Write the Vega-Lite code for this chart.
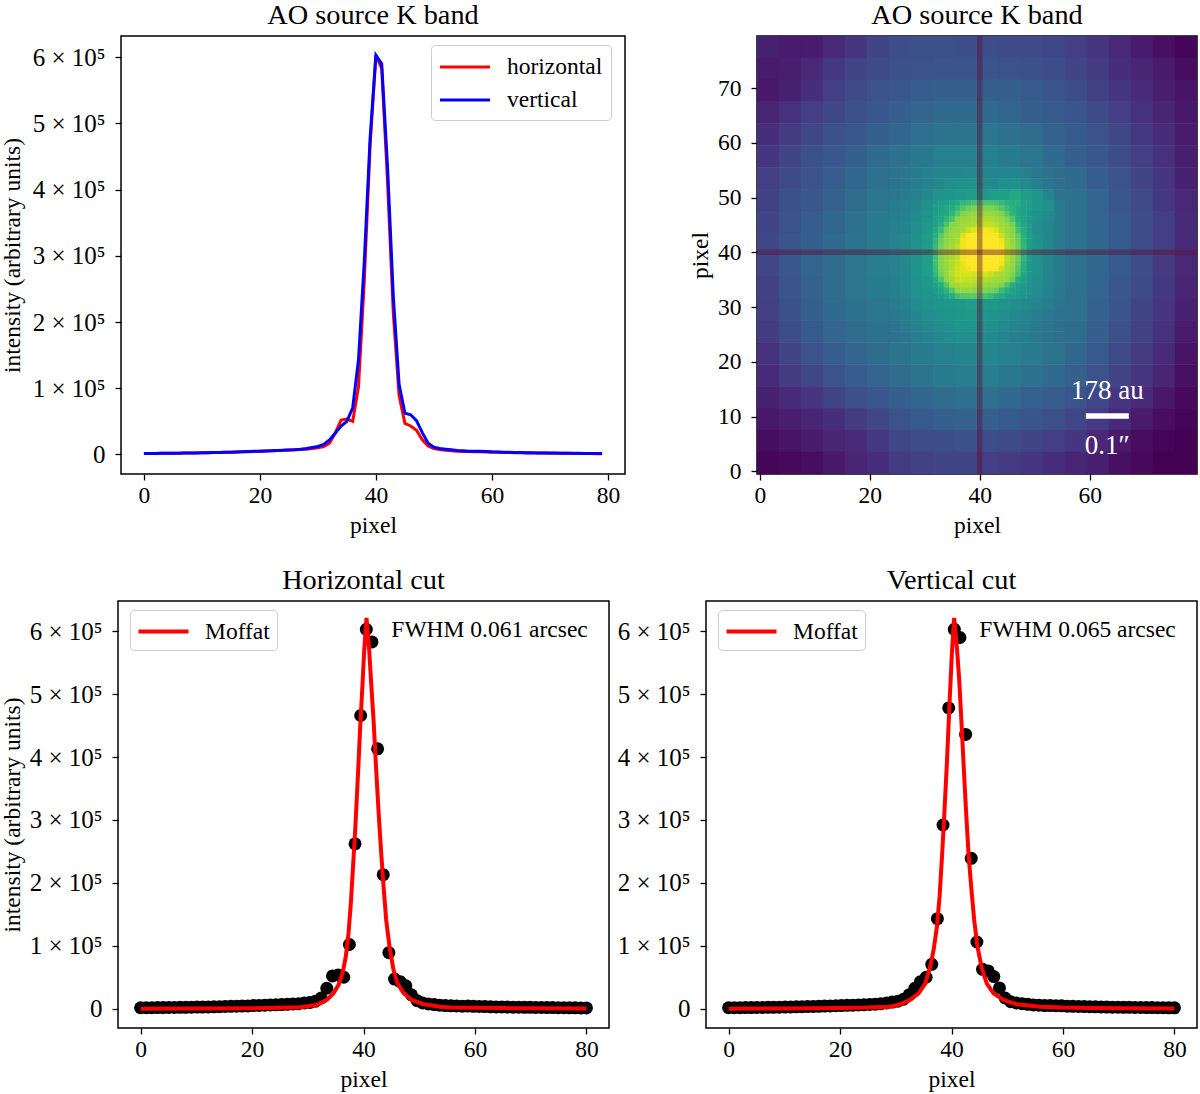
{"$schema":"https://vega.github.io/schema/vega-lite/v6.json","background":"white","padding":{"left":-1,"top":-1,"right":0,"bottom":0},"spacing":26,"resolve":{"scale":{"color":"independent"},"legend":{"color":"independent"}},"config":{"font":"Liberation Serif","view":{"stroke":"#000","strokeWidth":1.5},"title":{"fontSize":28.3,"fontWeight":"normal","color":"#000","offset":6},"axis":{"grid":false,"domain":false,"tickColor":"#000","tickSize":6,"tickWidth":1.3,"labelColor":"#000","labelFontSize":23.5,"titleColor":"#000","titleFontSize":23.5,"titleFontWeight":"normal","labelFlush":false,"labelOverlap":false},"axisX":{"labelPadding":3,"titlePadding":7},"axisY":{"labelPadding":10},"legend":{"labelFontSize":23.5,"labelColor":"#000"}},
"datasets":{
"cuts":[{"i":0,"x":0,"h":1500,"v":1500},{"i":1,"x":1.013,"h":1500,"v":1500},{"i":2,"x":2.025,"h":1600,"v":1600},{"i":3,"x":3.038,"h":1700,"v":1700},{"i":4,"x":4.051,"h":1800,"v":1800},{"i":5,"x":5.063,"h":2000,"v":1900},{"i":6,"x":6.076,"h":2000,"v":2000},{"i":7,"x":7.089,"h":2100,"v":2100},{"i":8,"x":8.101,"h":2200,"v":2200},{"i":9,"x":9.114,"h":2300,"v":2300},{"i":10,"x":10.127,"h":2500,"v":2500},{"i":11,"x":11.139,"h":2600,"v":2700},{"i":12,"x":12.152,"h":2800,"v":2900},{"i":13,"x":13.165,"h":3000,"v":3100},{"i":14,"x":14.177,"h":3200,"v":3300},{"i":15,"x":15.19,"h":3500,"v":3500},{"i":16,"x":16.203,"h":3700,"v":3800},{"i":17,"x":17.215,"h":4000,"v":4100},{"i":18,"x":18.228,"h":4200,"v":4400},{"i":19,"x":19.241,"h":4400,"v":4700},{"i":20,"x":20.253,"h":5000,"v":5000},{"i":21,"x":21.266,"h":5200,"v":5300},{"i":22,"x":22.278,"h":5500,"v":5600},{"i":23,"x":23.291,"h":6000,"v":6000},{"i":24,"x":24.304,"h":6200,"v":6300},{"i":25,"x":25.316,"h":6600,"v":6700},{"i":26,"x":26.329,"h":7000,"v":7200},{"i":27,"x":27.342,"h":7500,"v":8000},{"i":28,"x":28.354,"h":8000,"v":9000},{"i":29,"x":29.367,"h":9000,"v":10500},{"i":30,"x":30.38,"h":10000,"v":12000},{"i":31,"x":31.392,"h":12000,"v":15000},{"i":32,"x":32.405,"h":17000,"v":22000},{"i":33,"x":33.418,"h":32500,"v":32500},{"i":34,"x":34.43,"h":52000,"v":43000},{"i":35,"x":35.443,"h":53500,"v":50000},{"i":36,"x":36.456,"h":50000,"v":70500},{"i":37,"x":37.468,"h":102000,"v":143000},{"i":38,"x":38.481,"h":262000,"v":292000},{"i":39,"x":39.494,"h":466000,"v":478000},{"i":40,"x":40.506,"h":603000,"v":603000},{"i":41,"x":41.519,"h":583000,"v":590000},{"i":42,"x":42.532,"h":413000,"v":436000},{"i":43,"x":43.544,"h":213000,"v":239000},{"i":44,"x":44.557,"h":89000,"v":106000},{"i":45,"x":45.57,"h":47000,"v":62500},{"i":46,"x":46.582,"h":43000,"v":60000},{"i":47,"x":47.595,"h":36500,"v":51000},{"i":48,"x":48.608,"h":22000,"v":33000},{"i":49,"x":49.62,"h":12700,"v":17000},{"i":50,"x":50.633,"h":9000,"v":11000},{"i":51,"x":51.646,"h":7500,"v":9000},{"i":52,"x":52.658,"h":6500,"v":8000},{"i":53,"x":53.671,"h":5500,"v":7000},{"i":54,"x":54.684,"h":5000,"v":6000},{"i":55,"x":55.696,"h":4500,"v":5500},{"i":56,"x":56.709,"h":4300,"v":5000},{"i":57,"x":57.722,"h":4000,"v":5000},{"i":58,"x":58.734,"h":4200,"v":4800},{"i":59,"x":59.747,"h":3800,"v":4500},{"i":60,"x":60.76,"h":3500,"v":4000},{"i":61,"x":61.772,"h":3300,"v":3800},{"i":62,"x":62.785,"h":3000,"v":3500},{"i":63,"x":63.797,"h":2800,"v":3300},{"i":64,"x":64.81,"h":2700,"v":3100},{"i":65,"x":65.823,"h":2500,"v":2900},{"i":66,"x":66.835,"h":2400,"v":2700},{"i":67,"x":67.848,"h":2300,"v":2500},{"i":68,"x":68.861,"h":2200,"v":2400},{"i":69,"x":69.873,"h":2100,"v":2300},{"i":70,"x":70.886,"h":2000,"v":2200},{"i":71,"x":71.899,"h":1900,"v":2100},{"i":72,"x":72.911,"h":1800,"v":2000},{"i":73,"x":73.924,"h":1700,"v":1900},{"i":74,"x":74.937,"h":1600,"v":1800},{"i":75,"x":75.949,"h":1500,"v":1700},{"i":76,"x":76.962,"h":1400,"v":1600},{"i":77,"x":77.975,"h":1300,"v":1500},{"i":78,"x":78.987,"h":1200,"v":1400},{"i":79,"x":80,"h":1200,"v":1300}],
"moffatH":[{"x":0,"y":0},{"x":10,"y":300},{"x":20,"y":800},{"x":25,"y":1400},{"x":28.64,"y":2200},{"x":31.63,"y":6000},{"x":33.42,"y":14000},{"x":34.62,"y":24500},{"x":35.52,"y":38000},{"x":36.24,"y":56000},{"x":36.83,"y":83000},{"x":37.31,"y":120000},{"x":37.73,"y":168000},{"x":38.09,"y":221000},{"x":38.51,"y":284000},{"x":38.93,"y":358000},{"x":39.41,"y":448000},{"x":39.83,"y":517000},{"x":40.13,"y":570000},{"x":40.54,"y":621000},{"x":41.02,"y":570000},{"x":41.38,"y":517000},{"x":41.8,"y":459000},{"x":42.28,"y":379000},{"x":42.76,"y":305000},{"x":43.18,"y":247000},{"x":43.6,"y":194000},{"x":44.07,"y":141000},{"x":44.67,"y":98500},{"x":45.39,"y":61500},{"x":46.11,"y":40000},{"x":47.19,"y":24500},{"x":48.68,"y":14000},{"x":50.78,"y":7000},{"x":53.77,"y":3200},{"x":55.57,"y":2000},{"x":60,"y":1300},{"x":65,"y":900},{"x":70,"y":600},{"x":80,"y":300}],
"moffatV":[{"x":0,"y":0},{"x":10,"y":400},{"x":20,"y":1000},{"x":25,"y":1700},{"x":29,"y":3200},{"x":30.8,"y":7000},{"x":32.6,"y":14000},{"x":34.09,"y":24500},{"x":35.29,"y":40000},{"x":36.18,"y":67000},{"x":36.78,"y":93000},{"x":37.38,"y":130000},{"x":37.86,"y":178000},{"x":38.33,"y":247000},{"x":38.75,"y":316000},{"x":39.17,"y":390000},{"x":39.65,"y":486000},{"x":40.07,"y":565000},{"x":40.48,"y":621000},{"x":40.96,"y":575500},{"x":41.38,"y":523000},{"x":41.74,"y":464000},{"x":42.16,"y":390000},{"x":42.63,"y":311000},{"x":43.05,"y":247000},{"x":43.53,"y":194000},{"x":44.07,"y":141000},{"x":44.66,"y":98500},{"x":45.44,"y":64000},{"x":46.34,"y":40000},{"x":47.53,"y":24500},{"x":49.32,"y":14000},{"x":51.7,"y":7000},{"x":55.9,"y":3200},{"x":60,"y":1800},{"x":65,"y":1200},{"x":70,"y":800},{"x":80,"y":400}],
"coarse":[{"i":1.5,"j":77.5,"t":9},{"i":5.5,"j":77.5,"t":7},{"i":9.5,"j":77.5,"t":7},{"i":13.5,"j":77.5,"t":11},{"i":17.5,"j":77.5,"t":15},{"i":21.5,"j":77.5,"t":20},{"i":25.5,"j":77.5,"t":23},{"i":29.5,"j":77.5,"t":24},{"i":33.5,"j":77.5,"t":24},{"i":37.5,"j":77.5,"t":23},{"i":41.5,"j":77.5,"t":23},{"i":45.5,"j":77.5,"t":22},{"i":49.5,"j":77.5,"t":22},{"i":53.5,"j":77.5,"t":21},{"i":57.5,"j":77.5,"t":18},{"i":61.5,"j":77.5,"t":15},{"i":65.5,"j":77.5,"t":11},{"i":69.5,"j":77.5,"t":7},{"i":73.5,"j":77.5,"t":4},{"i":77.5,"j":77.5,"t":1},
{"i":1.5,"j":73.5,"t":7},{"i":5.5,"j":73.5,"t":8},{"i":9.5,"j":73.5,"t":11},{"i":13.5,"j":73.5,"t":16},{"i":17.5,"j":73.5,"t":20},{"i":21.5,"j":73.5,"t":22},{"i":25.5,"j":73.5,"t":24},{"i":29.5,"j":73.5,"t":25},{"i":33.5,"j":73.5,"t":26},{"i":37.5,"j":73.5,"t":26},{"i":41.5,"j":73.5,"t":26},{"i":45.5,"j":73.5,"t":25},{"i":49.5,"j":73.5,"t":24},{"i":53.5,"j":73.5,"t":23},{"i":57.5,"j":73.5,"t":20},{"i":61.5,"j":73.5,"t":17},{"i":65.5,"j":73.5,"t":13},{"i":69.5,"j":73.5,"t":10},{"i":73.5,"j":73.5,"t":7},{"i":77.5,"j":73.5,"t":3},
{"i":1.5,"j":69.5,"t":6},{"i":5.5,"j":69.5,"t":9},{"i":9.5,"j":69.5,"t":13},{"i":13.5,"j":69.5,"t":18},{"i":17.5,"j":69.5,"t":22},{"i":21.5,"j":69.5,"t":25},{"i":25.5,"j":69.5,"t":27},{"i":29.5,"j":69.5,"t":29},{"i":33.5,"j":69.5,"t":30},{"i":37.5,"j":69.5,"t":30},{"i":41.5,"j":69.5,"t":30},{"i":45.5,"j":69.5,"t":30},{"i":49.5,"j":69.5,"t":28},{"i":53.5,"j":69.5,"t":26},{"i":57.5,"j":69.5,"t":23},{"i":61.5,"j":69.5,"t":19},{"i":65.5,"j":69.5,"t":15},{"i":69.5,"j":69.5,"t":12},{"i":73.5,"j":69.5,"t":8},{"i":77.5,"j":69.5,"t":5},
{"i":1.5,"j":65.5,"t":10},{"i":5.5,"j":65.5,"t":14},{"i":9.5,"j":65.5,"t":18},{"i":13.5,"j":65.5,"t":21},{"i":17.5,"j":65.5,"t":24},{"i":21.5,"j":65.5,"t":27},{"i":25.5,"j":65.5,"t":30},{"i":29.5,"j":65.5,"t":32},{"i":33.5,"j":65.5,"t":34},{"i":37.5,"j":65.5,"t":34},{"i":41.5,"j":65.5,"t":34},{"i":45.5,"j":65.5,"t":33},{"i":49.5,"j":65.5,"t":30},{"i":53.5,"j":65.5,"t":28},{"i":57.5,"j":65.5,"t":26},{"i":61.5,"j":65.5,"t":22},{"i":65.5,"j":65.5,"t":18},{"i":69.5,"j":65.5,"t":14},{"i":73.5,"j":65.5,"t":10},{"i":77.5,"j":65.5,"t":6},
{"i":1.5,"j":61.5,"t":13},{"i":5.5,"j":61.5,"t":17},{"i":9.5,"j":61.5,"t":21},{"i":13.5,"j":61.5,"t":24},{"i":17.5,"j":61.5,"t":27},{"i":21.5,"j":61.5,"t":30},{"i":25.5,"j":61.5,"t":33},{"i":29.5,"j":61.5,"t":36},{"i":33.5,"j":61.5,"t":38},{"i":37.5,"j":61.5,"t":38},{"i":41.5,"j":61.5,"t":39},{"i":45.5,"j":61.5,"t":37},{"i":49.5,"j":61.5,"t":35},{"i":53.5,"j":61.5,"t":31},{"i":57.5,"j":61.5,"t":28},{"i":61.5,"j":61.5,"t":25},{"i":65.5,"j":61.5,"t":21},{"i":69.5,"j":61.5,"t":16},{"i":73.5,"j":61.5,"t":12},{"i":77.5,"j":61.5,"t":7},
{"i":1.5,"j":57.5,"t":15},{"i":5.5,"j":57.5,"t":20},{"i":9.5,"j":57.5,"t":24},{"i":13.5,"j":57.5,"t":27},{"i":17.5,"j":57.5,"t":30},{"i":21.5,"j":57.5,"t":34},{"i":25.5,"j":57.5,"t":37},{"i":29.5,"j":57.5,"t":40},{"i":33.5,"j":57.5,"t":43},{"i":37.5,"j":57.5,"t":43},{"i":41.5,"j":57.5,"t":43},{"i":45.5,"j":57.5,"t":41},{"i":49.5,"j":57.5,"t":39},{"i":53.5,"j":57.5,"t":34},{"i":57.5,"j":57.5,"t":30},{"i":61.5,"j":57.5,"t":27},{"i":65.5,"j":57.5,"t":23},{"i":69.5,"j":57.5,"t":18},{"i":73.5,"j":57.5,"t":14},{"i":77.5,"j":57.5,"t":8},
{"i":1.5,"j":53.5,"t":18},{"i":5.5,"j":53.5,"t":22},{"i":9.5,"j":53.5,"t":25},{"i":13.5,"j":53.5,"t":29},{"i":17.5,"j":53.5,"t":33},{"i":21.5,"j":53.5,"t":36},{"i":57.5,"j":53.5,"t":34},{"i":61.5,"j":53.5,"t":29},{"i":65.5,"j":53.5,"t":25},{"i":69.5,"j":53.5,"t":20},{"i":73.5,"j":53.5,"t":15},{"i":77.5,"j":53.5,"t":9},
{"i":1.5,"j":49.5,"t":19},{"i":5.5,"j":49.5,"t":24},{"i":9.5,"j":49.5,"t":27},{"i":13.5,"j":49.5,"t":31},{"i":17.5,"j":49.5,"t":35},{"i":21.5,"j":49.5,"t":39},{"i":57.5,"j":49.5,"t":37},{"i":61.5,"j":49.5,"t":32},{"i":65.5,"j":49.5,"t":27},{"i":69.5,"j":49.5,"t":22},{"i":73.5,"j":49.5,"t":16},{"i":77.5,"j":49.5,"t":11},
{"i":1.5,"j":45.5,"t":20},{"i":5.5,"j":45.5,"t":25},{"i":9.5,"j":45.5,"t":29},{"i":13.5,"j":45.5,"t":33},{"i":17.5,"j":45.5,"t":37},{"i":21.5,"j":45.5,"t":41},{"i":57.5,"j":45.5,"t":37},{"i":61.5,"j":45.5,"t":32},{"i":65.5,"j":45.5,"t":28},{"i":69.5,"j":45.5,"t":23},{"i":73.5,"j":45.5,"t":18},{"i":77.5,"j":45.5,"t":12},
{"i":1.5,"j":41.5,"t":21},{"i":5.5,"j":41.5,"t":26},{"i":9.5,"j":41.5,"t":30},{"i":13.5,"j":41.5,"t":34},{"i":17.5,"j":41.5,"t":38},{"i":21.5,"j":41.5,"t":41},{"i":57.5,"j":41.5,"t":37},{"i":61.5,"j":41.5,"t":33},{"i":65.5,"j":41.5,"t":28},{"i":69.5,"j":41.5,"t":23},{"i":73.5,"j":41.5,"t":18},{"i":77.5,"j":41.5,"t":12},
{"i":1.5,"j":37.5,"t":21},{"i":5.5,"j":37.5,"t":27},{"i":9.5,"j":37.5,"t":32},{"i":13.5,"j":37.5,"t":35},{"i":17.5,"j":37.5,"t":39},{"i":21.5,"j":37.5,"t":42},{"i":57.5,"j":37.5,"t":37},{"i":61.5,"j":37.5,"t":33},{"i":65.5,"j":37.5,"t":28},{"i":69.5,"j":37.5,"t":23},{"i":73.5,"j":37.5,"t":17},{"i":77.5,"j":37.5,"t":11},
{"i":1.5,"j":33.5,"t":19},{"i":5.5,"j":33.5,"t":26},{"i":9.5,"j":33.5,"t":31},{"i":13.5,"j":33.5,"t":35},{"i":17.5,"j":33.5,"t":39},{"i":21.5,"j":33.5,"t":41},{"i":57.5,"j":33.5,"t":37},{"i":61.5,"j":33.5,"t":32},{"i":65.5,"j":33.5,"t":27},{"i":69.5,"j":33.5,"t":22},{"i":73.5,"j":33.5,"t":16},{"i":77.5,"j":33.5,"t":10},
{"i":1.5,"j":29.5,"t":18},{"i":5.5,"j":29.5,"t":24},{"i":9.5,"j":29.5,"t":30},{"i":13.5,"j":29.5,"t":34},{"i":17.5,"j":29.5,"t":37},{"i":21.5,"j":29.5,"t":39},{"i":57.5,"j":29.5,"t":37},{"i":61.5,"j":29.5,"t":31},{"i":65.5,"j":29.5,"t":26},{"i":69.5,"j":29.5,"t":20},{"i":73.5,"j":29.5,"t":15},{"i":77.5,"j":29.5,"t":9},
{"i":1.5,"j":25.5,"t":17},{"i":5.5,"j":25.5,"t":23},{"i":9.5,"j":25.5,"t":28},{"i":13.5,"j":25.5,"t":32},{"i":17.5,"j":25.5,"t":35},{"i":21.5,"j":25.5,"t":37},{"i":57.5,"j":25.5,"t":35},{"i":61.5,"j":25.5,"t":30},{"i":65.5,"j":25.5,"t":24},{"i":69.5,"j":25.5,"t":19},{"i":73.5,"j":25.5,"t":14},{"i":77.5,"j":25.5,"t":7},
{"i":1.5,"j":21.5,"t":14},{"i":5.5,"j":21.5,"t":20},{"i":9.5,"j":21.5,"t":25},{"i":13.5,"j":21.5,"t":29},{"i":17.5,"j":21.5,"t":32},{"i":21.5,"j":21.5,"t":35},{"i":25.5,"j":21.5,"t":38},{"i":29.5,"j":21.5,"t":41},{"i":33.5,"j":21.5,"t":43},{"i":37.5,"j":21.5,"t":45},{"i":41.5,"j":21.5,"t":46},{"i":45.5,"j":21.5,"t":44},{"i":49.5,"j":21.5,"t":41},{"i":53.5,"j":21.5,"t":38},{"i":57.5,"j":21.5,"t":33},{"i":61.5,"j":21.5,"t":28},{"i":65.5,"j":21.5,"t":22},{"i":69.5,"j":21.5,"t":17},{"i":73.5,"j":21.5,"t":12},{"i":77.5,"j":21.5,"t":5},
{"i":1.5,"j":17.5,"t":12},{"i":5.5,"j":17.5,"t":17},{"i":9.5,"j":17.5,"t":21},{"i":13.5,"j":17.5,"t":25},{"i":17.5,"j":17.5,"t":29},{"i":21.5,"j":17.5,"t":32},{"i":25.5,"j":17.5,"t":35},{"i":29.5,"j":17.5,"t":38},{"i":33.5,"j":17.5,"t":41},{"i":37.5,"j":17.5,"t":42},{"i":41.5,"j":17.5,"t":42},{"i":45.5,"j":17.5,"t":40},{"i":49.5,"j":17.5,"t":37},{"i":53.5,"j":17.5,"t":34},{"i":57.5,"j":17.5,"t":30},{"i":61.5,"j":17.5,"t":25},{"i":65.5,"j":17.5,"t":20},{"i":69.5,"j":17.5,"t":15},{"i":73.5,"j":17.5,"t":10},{"i":77.5,"j":17.5,"t":4},
{"i":1.5,"j":13.5,"t":9},{"i":5.5,"j":13.5,"t":12},{"i":9.5,"j":13.5,"t":15},{"i":13.5,"j":13.5,"t":20},{"i":17.5,"j":13.5,"t":24},{"i":21.5,"j":13.5,"t":27},{"i":25.5,"j":13.5,"t":30},{"i":29.5,"j":13.5,"t":33},{"i":33.5,"j":13.5,"t":35},{"i":37.5,"j":13.5,"t":36},{"i":41.5,"j":13.5,"t":36},{"i":45.5,"j":13.5,"t":34},{"i":49.5,"j":13.5,"t":31},{"i":53.5,"j":13.5,"t":29},{"i":57.5,"j":13.5,"t":26},{"i":61.5,"j":13.5,"t":21},{"i":65.5,"j":13.5,"t":15},{"i":69.5,"j":13.5,"t":12},{"i":73.5,"j":13.5,"t":6},{"i":77.5,"j":13.5,"t":2},
{"i":1.5,"j":9.5,"t":6},{"i":5.5,"j":9.5,"t":8},{"i":9.5,"j":9.5,"t":10},{"i":13.5,"j":9.5,"t":13},{"i":17.5,"j":9.5,"t":17},{"i":21.5,"j":9.5,"t":21},{"i":25.5,"j":9.5,"t":25},{"i":29.5,"j":9.5,"t":28},{"i":33.5,"j":9.5,"t":30},{"i":37.5,"j":9.5,"t":31},{"i":41.5,"j":9.5,"t":30},{"i":45.5,"j":9.5,"t":28},{"i":49.5,"j":9.5,"t":26},{"i":53.5,"j":9.5,"t":24},{"i":57.5,"j":9.5,"t":21},{"i":61.5,"j":9.5,"t":17},{"i":65.5,"j":9.5,"t":12},{"i":69.5,"j":9.5,"t":7},{"i":73.5,"j":9.5,"t":3},{"i":77.5,"j":9.5,"t":1},
{"i":1.5,"j":5.5,"t":3},{"i":5.5,"j":5.5,"t":5},{"i":9.5,"j":5.5,"t":7},{"i":13.5,"j":5.5,"t":10},{"i":17.5,"j":5.5,"t":12},{"i":21.5,"j":5.5,"t":16},{"i":25.5,"j":5.5,"t":21},{"i":29.5,"j":5.5,"t":23},{"i":33.5,"j":5.5,"t":23},{"i":37.5,"j":5.5,"t":24},{"i":41.5,"j":5.5,"t":23},{"i":45.5,"j":5.5,"t":22},{"i":49.5,"j":5.5,"t":20},{"i":53.5,"j":5.5,"t":18},{"i":57.5,"j":5.5,"t":15},{"i":61.5,"j":5.5,"t":11},{"i":65.5,"j":5.5,"t":7},{"i":69.5,"j":5.5,"t":3},{"i":73.5,"j":5.5,"t":1},{"i":77.5,"j":5.5,"t":0},
{"i":1.5,"j":1.5,"t":1},{"i":5.5,"j":1.5,"t":2},{"i":9.5,"j":1.5,"t":3},{"i":13.5,"j":1.5,"t":6},{"i":17.5,"j":1.5,"t":10},{"i":21.5,"j":1.5,"t":13},{"i":25.5,"j":1.5,"t":17},{"i":29.5,"j":1.5,"t":19},{"i":33.5,"j":1.5,"t":20},{"i":37.5,"j":1.5,"t":20},{"i":41.5,"j":1.5,"t":18},{"i":45.5,"j":1.5,"t":17},{"i":49.5,"j":1.5,"t":15},{"i":53.5,"j":1.5,"t":13},{"i":57.5,"j":1.5,"t":10},{"i":61.5,"j":1.5,"t":8},{"i":65.5,"j":1.5,"t":4},{"i":69.5,"j":1.5,"t":2},{"i":73.5,"j":1.5,"t":0},{"i":77.5,"j":1.5,"t":0}],
"medium":[{"i":24.5,"j":54.5,"t":37},{"i":26.5,"j":54.5,"t":39},{"i":28.5,"j":54.5,"t":41},{"i":30.5,"j":54.5,"t":43},{"i":32.5,"j":54.5,"t":45},{"i":34.5,"j":54.5,"t":46},{"i":36.5,"j":54.5,"t":46},{"i":38.5,"j":54.5,"t":47},{"i":40.5,"j":54.5,"t":45},{"i":42.5,"j":54.5,"t":45},{"i":44.5,"j":54.5,"t":45},{"i":46.5,"j":54.5,"t":45},{"i":48.5,"j":54.5,"t":43},{"i":50.5,"j":54.5,"t":40},{"i":52.5,"j":54.5,"t":37},{"i":54.5,"j":54.5,"t":35},
{"i":24.5,"j":52.5,"t":38},{"i":26.5,"j":52.5,"t":40},{"i":28.5,"j":52.5,"t":42},{"i":30.5,"j":52.5,"t":44},{"i":32.5,"j":52.5,"t":46},{"i":34.5,"j":52.5,"t":49},{"i":36.5,"j":52.5,"t":50},{"i":38.5,"j":52.5,"t":50},{"i":40.5,"j":52.5,"t":47},{"i":42.5,"j":52.5,"t":47},{"i":44.5,"j":52.5,"t":49},{"i":46.5,"j":52.5,"t":50},{"i":48.5,"j":52.5,"t":47},{"i":50.5,"j":52.5,"t":43},{"i":52.5,"j":52.5,"t":39},{"i":54.5,"j":52.5,"t":36},
{"i":24.5,"j":50.5,"t":39},{"i":26.5,"j":50.5,"t":41},{"i":28.5,"j":50.5,"t":43},{"i":30.5,"j":50.5,"t":46},{"i":32.5,"j":50.5,"t":50},{"i":34.5,"j":50.5,"t":52},{"i":36.5,"j":50.5,"t":54},{"i":38.5,"j":50.5,"t":55},{"i":40.5,"j":50.5,"t":54},{"i":42.5,"j":50.5,"t":55},{"i":44.5,"j":50.5,"t":57},{"i":46.5,"j":50.5,"t":60},{"i":48.5,"j":50.5,"t":55},{"i":50.5,"j":50.5,"t":52},{"i":52.5,"j":50.5,"t":45},{"i":54.5,"j":50.5,"t":38},
{"i":24.5,"j":48.5,"t":41},{"i":26.5,"j":48.5,"t":43},{"i":28.5,"j":48.5,"t":46},{"i":30.5,"j":48.5,"t":50},{"i":50.5,"j":48.5,"t":53},{"i":52.5,"j":48.5,"t":50},{"i":54.5,"j":48.5,"t":41},
{"i":24.5,"j":46.5,"t":42},{"i":26.5,"j":46.5,"t":44},{"i":28.5,"j":46.5,"t":47},{"i":30.5,"j":46.5,"t":52},{"i":50.5,"j":46.5,"t":50},{"i":52.5,"j":46.5,"t":47},{"i":54.5,"j":46.5,"t":41},
{"i":24.5,"j":44.5,"t":43},{"i":26.5,"j":44.5,"t":45},{"i":28.5,"j":44.5,"t":49},{"i":30.5,"j":44.5,"t":54},{"i":50.5,"j":44.5,"t":49},{"i":52.5,"j":44.5,"t":46},{"i":54.5,"j":44.5,"t":41},
{"i":24.5,"j":42.5,"t":44},{"i":26.5,"j":42.5,"t":46},{"i":28.5,"j":42.5,"t":50},{"i":30.5,"j":42.5,"t":55},{"i":50.5,"j":42.5,"t":50},{"i":52.5,"j":42.5,"t":46},{"i":54.5,"j":42.5,"t":41},
{"i":24.5,"j":40.5,"t":44},{"i":26.5,"j":40.5,"t":46},{"i":28.5,"j":40.5,"t":50},{"i":30.5,"j":40.5,"t":56},{"i":50.5,"j":40.5,"t":51},{"i":52.5,"j":40.5,"t":46},{"i":54.5,"j":40.5,"t":41},
{"i":24.5,"j":38.5,"t":44},{"i":26.5,"j":38.5,"t":47},{"i":28.5,"j":38.5,"t":51},{"i":30.5,"j":38.5,"t":56},{"i":50.5,"j":38.5,"t":50},{"i":52.5,"j":38.5,"t":46},{"i":54.5,"j":38.5,"t":41},
{"i":24.5,"j":36.5,"t":44},{"i":26.5,"j":36.5,"t":46},{"i":28.5,"j":36.5,"t":51},{"i":30.5,"j":36.5,"t":56},{"i":50.5,"j":36.5,"t":50},{"i":52.5,"j":36.5,"t":45},{"i":54.5,"j":36.5,"t":41},
{"i":24.5,"j":34.5,"t":43},{"i":26.5,"j":34.5,"t":46},{"i":28.5,"j":34.5,"t":50},{"i":30.5,"j":34.5,"t":54},{"i":50.5,"j":34.5,"t":49},{"i":52.5,"j":34.5,"t":45},{"i":54.5,"j":34.5,"t":41},
{"i":24.5,"j":32.5,"t":42},{"i":26.5,"j":32.5,"t":45},{"i":28.5,"j":32.5,"t":50},{"i":30.5,"j":32.5,"t":52},{"i":50.5,"j":32.5,"t":48},{"i":52.5,"j":32.5,"t":44},{"i":54.5,"j":32.5,"t":40},
{"i":24.5,"j":30.5,"t":41},{"i":26.5,"j":30.5,"t":44},{"i":28.5,"j":30.5,"t":48},{"i":30.5,"j":30.5,"t":50},{"i":32.5,"j":30.5,"t":52},{"i":34.5,"j":30.5,"t":53},{"i":36.5,"j":30.5,"t":54},{"i":38.5,"j":30.5,"t":55},{"i":40.5,"j":30.5,"t":54},{"i":42.5,"j":30.5,"t":53},{"i":44.5,"j":30.5,"t":51},{"i":46.5,"j":30.5,"t":49},{"i":48.5,"j":30.5,"t":47},{"i":50.5,"j":30.5,"t":45},{"i":52.5,"j":30.5,"t":42},{"i":54.5,"j":30.5,"t":39},
{"i":24.5,"j":28.5,"t":40},{"i":26.5,"j":28.5,"t":42},{"i":28.5,"j":28.5,"t":46},{"i":30.5,"j":28.5,"t":48},{"i":32.5,"j":28.5,"t":50},{"i":34.5,"j":28.5,"t":52},{"i":36.5,"j":28.5,"t":53},{"i":38.5,"j":28.5,"t":54},{"i":40.5,"j":28.5,"t":53},{"i":42.5,"j":28.5,"t":51},{"i":44.5,"j":28.5,"t":49},{"i":46.5,"j":28.5,"t":47},{"i":48.5,"j":28.5,"t":45},{"i":50.5,"j":28.5,"t":42},{"i":52.5,"j":28.5,"t":40},{"i":54.5,"j":28.5,"t":38},
{"i":24.5,"j":26.5,"t":38},{"i":26.5,"j":26.5,"t":41},{"i":28.5,"j":26.5,"t":44},{"i":30.5,"j":26.5,"t":46},{"i":32.5,"j":26.5,"t":48},{"i":34.5,"j":26.5,"t":50},{"i":36.5,"j":26.5,"t":52},{"i":38.5,"j":26.5,"t":52},{"i":40.5,"j":26.5,"t":50},{"i":42.5,"j":26.5,"t":49},{"i":44.5,"j":26.5,"t":47},{"i":46.5,"j":26.5,"t":45},{"i":48.5,"j":26.5,"t":43},{"i":50.5,"j":26.5,"t":40},{"i":52.5,"j":26.5,"t":38},{"i":54.5,"j":26.5,"t":36},
{"i":24.5,"j":24.5,"t":37},{"i":26.5,"j":24.5,"t":39},{"i":28.5,"j":24.5,"t":42},{"i":30.5,"j":24.5,"t":44},{"i":32.5,"j":24.5,"t":46},{"i":34.5,"j":24.5,"t":48},{"i":36.5,"j":24.5,"t":49},{"i":38.5,"j":24.5,"t":49},{"i":40.5,"j":24.5,"t":48},{"i":42.5,"j":24.5,"t":47},{"i":44.5,"j":24.5,"t":45},{"i":46.5,"j":24.5,"t":43},{"i":48.5,"j":24.5,"t":42},{"i":50.5,"j":24.5,"t":40},{"i":52.5,"j":24.5,"t":38},{"i":54.5,"j":24.5,"t":36}],
"core":[{"i":32,"j":49,"t":54},{"i":33,"j":49,"t":55},{"i":34,"j":49,"t":57},{"i":35,"j":49,"t":59},{"i":36,"j":49,"t":62},{"i":37,"j":49,"t":65},{"i":38,"j":49,"t":68},{"i":39,"j":49,"t":70},{"i":40,"j":49,"t":72},{"i":41,"j":49,"t":72},{"i":42,"j":49,"t":72},{"i":43,"j":49,"t":70},{"i":44,"j":49,"t":67},{"i":45,"j":49,"t":63},{"i":46,"j":49,"t":62},{"i":47,"j":49,"t":62},{"i":48,"j":49,"t":58},{"i":49,"j":49,"t":56},
{"i":32,"j":48,"t":55},{"i":33,"j":48,"t":57},{"i":34,"j":48,"t":60},{"i":35,"j":48,"t":62},{"i":36,"j":48,"t":67},{"i":37,"j":48,"t":74},{"i":38,"j":48,"t":78},{"i":39,"j":48,"t":80},{"i":40,"j":48,"t":81},{"i":41,"j":48,"t":81},{"i":42,"j":48,"t":81},{"i":43,"j":48,"t":79},{"i":44,"j":48,"t":74},{"i":45,"j":48,"t":68},{"i":46,"j":48,"t":63},{"i":47,"j":48,"t":60},{"i":48,"j":48,"t":57},{"i":49,"j":48,"t":55},
{"i":32,"j":47,"t":56},{"i":33,"j":47,"t":58},{"i":34,"j":47,"t":60},{"i":35,"j":47,"t":66},{"i":36,"j":47,"t":74},{"i":37,"j":47,"t":81},{"i":38,"j":47,"t":83},{"i":39,"j":47,"t":84},{"i":40,"j":47,"t":85},{"i":41,"j":47,"t":85},{"i":42,"j":47,"t":85},{"i":43,"j":47,"t":84},{"i":44,"j":47,"t":81},{"i":45,"j":47,"t":74},{"i":46,"j":47,"t":66},{"i":47,"j":47,"t":60},{"i":48,"j":47,"t":57},{"i":49,"j":47,"t":54},
{"i":32,"j":46,"t":57},{"i":33,"j":46,"t":60},{"i":34,"j":46,"t":66},{"i":35,"j":46,"t":72},{"i":36,"j":46,"t":82},{"i":37,"j":46,"t":84},{"i":38,"j":46,"t":85},{"i":39,"j":46,"t":86},{"i":40,"j":46,"t":87},{"i":41,"j":46,"t":88},{"i":42,"j":46,"t":88},{"i":43,"j":46,"t":86},{"i":44,"j":46,"t":84},{"i":45,"j":46,"t":81},{"i":46,"j":46,"t":72},{"i":47,"j":46,"t":62},{"i":48,"j":46,"t":58},{"i":49,"j":46,"t":54},
{"i":32,"j":45,"t":58},{"i":33,"j":45,"t":62},{"i":34,"j":45,"t":72},{"i":35,"j":45,"t":82},{"i":36,"j":45,"t":84},{"i":37,"j":45,"t":86},{"i":38,"j":45,"t":87},{"i":39,"j":45,"t":88},{"i":40,"j":45,"t":90},{"i":41,"j":45,"t":91},{"i":42,"j":45,"t":91},{"i":43,"j":45,"t":89},{"i":44,"j":45,"t":86},{"i":45,"j":45,"t":84},{"i":46,"j":45,"t":80},{"i":47,"j":45,"t":66},{"i":48,"j":45,"t":60},{"i":49,"j":45,"t":55},
{"i":32,"j":44,"t":60},{"i":33,"j":44,"t":68},{"i":34,"j":44,"t":80},{"i":35,"j":44,"t":84},{"i":36,"j":44,"t":85},{"i":37,"j":44,"t":87},{"i":38,"j":44,"t":92},{"i":39,"j":44,"t":95},{"i":40,"j":44,"t":98},{"i":41,"j":44,"t":99},{"i":42,"j":44,"t":98},{"i":43,"j":44,"t":94},{"i":44,"j":44,"t":88},{"i":45,"j":44,"t":85},{"i":46,"j":44,"t":82},{"i":47,"j":44,"t":70},{"i":48,"j":44,"t":62},{"i":49,"j":44,"t":55},
{"i":32,"j":43,"t":63},{"i":33,"j":43,"t":75},{"i":34,"j":43,"t":82},{"i":35,"j":43,"t":85},{"i":36,"j":43,"t":86},{"i":37,"j":43,"t":95},{"i":38,"j":43,"t":100},{"i":39,"j":43,"t":100},{"i":40,"j":43,"t":100},{"i":41,"j":43,"t":100},{"i":42,"j":43,"t":100},{"i":43,"j":43,"t":100},{"i":44,"j":43,"t":92},{"i":45,"j":43,"t":86},{"i":46,"j":43,"t":83},{"i":47,"j":43,"t":76},{"i":48,"j":43,"t":64},{"i":49,"j":43,"t":56},
{"i":32,"j":42,"t":66},{"i":33,"j":42,"t":78},{"i":34,"j":42,"t":83},{"i":35,"j":42,"t":85},{"i":36,"j":42,"t":88},{"i":37,"j":42,"t":98},{"i":38,"j":42,"t":100},{"i":39,"j":42,"t":100},{"i":40,"j":42,"t":100},{"i":41,"j":42,"t":100},{"i":42,"j":42,"t":100},{"i":43,"j":42,"t":100},{"i":44,"j":42,"t":98},{"i":45,"j":42,"t":88},{"i":46,"j":42,"t":84},{"i":47,"j":42,"t":77},{"i":48,"j":42,"t":65},{"i":49,"j":42,"t":56},
{"i":32,"j":41,"t":68},{"i":33,"j":41,"t":80},{"i":34,"j":41,"t":84},{"i":35,"j":41,"t":86},{"i":36,"j":41,"t":90},{"i":37,"j":41,"t":98},{"i":38,"j":41,"t":100},{"i":39,"j":41,"t":100},{"i":40,"j":41,"t":100},{"i":41,"j":41,"t":100},{"i":42,"j":41,"t":100},{"i":43,"j":41,"t":100},{"i":44,"j":41,"t":99},{"i":45,"j":41,"t":88},{"i":46,"j":41,"t":85},{"i":47,"j":41,"t":78},{"i":48,"j":41,"t":66},{"i":49,"j":41,"t":56},
{"i":32,"j":40,"t":69},{"i":33,"j":40,"t":81},{"i":34,"j":40,"t":85},{"i":35,"j":40,"t":86},{"i":36,"j":40,"t":90},{"i":37,"j":40,"t":98},{"i":38,"j":40,"t":100},{"i":39,"j":40,"t":100},{"i":40,"j":40,"t":100},{"i":41,"j":40,"t":100},{"i":42,"j":40,"t":100},{"i":43,"j":40,"t":100},{"i":44,"j":40,"t":99},{"i":45,"j":40,"t":89},{"i":46,"j":40,"t":85},{"i":47,"j":40,"t":78},{"i":48,"j":40,"t":66},{"i":49,"j":40,"t":55},
{"i":32,"j":39,"t":70},{"i":33,"j":39,"t":82},{"i":34,"j":39,"t":85},{"i":35,"j":39,"t":87},{"i":36,"j":39,"t":91},{"i":37,"j":39,"t":98},{"i":38,"j":39,"t":100},{"i":39,"j":39,"t":100},{"i":40,"j":39,"t":100},{"i":41,"j":39,"t":100},{"i":42,"j":39,"t":100},{"i":43,"j":39,"t":100},{"i":44,"j":39,"t":99},{"i":45,"j":39,"t":89},{"i":46,"j":39,"t":85},{"i":47,"j":39,"t":78},{"i":48,"j":39,"t":65},{"i":49,"j":39,"t":55},
{"i":32,"j":38,"t":70},{"i":33,"j":38,"t":82},{"i":34,"j":38,"t":85},{"i":35,"j":38,"t":88},{"i":36,"j":38,"t":92},{"i":37,"j":38,"t":97},{"i":38,"j":38,"t":100},{"i":39,"j":38,"t":100},{"i":40,"j":38,"t":100},{"i":41,"j":38,"t":100},{"i":42,"j":38,"t":100},{"i":43,"j":38,"t":100},{"i":44,"j":38,"t":98},{"i":45,"j":38,"t":88},{"i":46,"j":38,"t":84},{"i":47,"j":38,"t":76},{"i":48,"j":38,"t":63},{"i":49,"j":38,"t":54},
{"i":32,"j":37,"t":69},{"i":33,"j":37,"t":81},{"i":34,"j":37,"t":85},{"i":35,"j":37,"t":89},{"i":36,"j":37,"t":93},{"i":37,"j":37,"t":95},{"i":38,"j":37,"t":98},{"i":39,"j":37,"t":100},{"i":40,"j":37,"t":100},{"i":41,"j":37,"t":100},{"i":42,"j":37,"t":100},{"i":43,"j":37,"t":99},{"i":44,"j":37,"t":92},{"i":45,"j":37,"t":86},{"i":46,"j":37,"t":83},{"i":47,"j":37,"t":74},{"i":48,"j":37,"t":62},{"i":49,"j":37,"t":54},
{"i":32,"j":36,"t":66},{"i":33,"j":36,"t":79},{"i":34,"j":36,"t":84},{"i":35,"j":36,"t":89},{"i":36,"j":36,"t":93},{"i":37,"j":36,"t":94},{"i":38,"j":36,"t":94},{"i":39,"j":36,"t":93},{"i":40,"j":36,"t":94},{"i":41,"j":36,"t":94},{"i":42,"j":36,"t":92},{"i":43,"j":36,"t":89},{"i":44,"j":36,"t":87},{"i":45,"j":36,"t":85},{"i":46,"j":36,"t":81},{"i":47,"j":36,"t":71},{"i":48,"j":36,"t":60},{"i":49,"j":36,"t":53},
{"i":32,"j":35,"t":62},{"i":33,"j":35,"t":72},{"i":34,"j":35,"t":83},{"i":35,"j":35,"t":87},{"i":36,"j":35,"t":91},{"i":37,"j":35,"t":92},{"i":38,"j":35,"t":91},{"i":39,"j":35,"t":90},{"i":40,"j":35,"t":89},{"i":41,"j":35,"t":88},{"i":42,"j":35,"t":87},{"i":43,"j":35,"t":86},{"i":44,"j":35,"t":85},{"i":45,"j":35,"t":83},{"i":46,"j":35,"t":77},{"i":47,"j":35,"t":62},{"i":48,"j":35,"t":57},{"i":49,"j":35,"t":52},
{"i":32,"j":34,"t":58},{"i":33,"j":34,"t":62},{"i":34,"j":34,"t":74},{"i":35,"j":34,"t":85},{"i":36,"j":34,"t":87},{"i":37,"j":34,"t":88},{"i":38,"j":34,"t":88},{"i":39,"j":34,"t":87},{"i":40,"j":34,"t":86},{"i":41,"j":34,"t":85},{"i":42,"j":34,"t":84},{"i":43,"j":34,"t":83},{"i":44,"j":34,"t":81},{"i":45,"j":34,"t":72},{"i":46,"j":34,"t":62},{"i":47,"j":34,"t":56},{"i":48,"j":34,"t":54},{"i":49,"j":34,"t":51},
{"i":32,"j":33,"t":55},{"i":33,"j":33,"t":58},{"i":34,"j":33,"t":65},{"i":35,"j":33,"t":73},{"i":36,"j":33,"t":83},{"i":37,"j":33,"t":84},{"i":38,"j":33,"t":84},{"i":39,"j":33,"t":83},{"i":40,"j":33,"t":82},{"i":41,"j":33,"t":81},{"i":42,"j":33,"t":79},{"i":43,"j":33,"t":77},{"i":44,"j":33,"t":68},{"i":45,"j":33,"t":62},{"i":46,"j":33,"t":58},{"i":47,"j":33,"t":55},{"i":48,"j":33,"t":53},{"i":49,"j":33,"t":50},
{"i":32,"j":32,"t":53},{"i":33,"j":32,"t":55},{"i":34,"j":32,"t":58},{"i":35,"j":32,"t":62},{"i":36,"j":32,"t":70},{"i":37,"j":32,"t":73},{"i":38,"j":32,"t":74},{"i":39,"j":32,"t":74},{"i":40,"j":32,"t":73},{"i":41,"j":32,"t":71},{"i":42,"j":32,"t":68},{"i":43,"j":32,"t":64},{"i":44,"j":32,"t":60},{"i":45,"j":32,"t":57},{"i":46,"j":32,"t":55},{"i":47,"j":32,"t":53},{"i":48,"j":32,"t":51},{"i":49,"j":32,"t":49}]
},
"vconcat":[
{"hconcat":[
{"width":3,"height":10,"view":{"stroke":null},"data":{"values":[{"a":1}]},"mark":{"type":"point","opacity":0}},
{"title":"AO source K band","width":504,"height":438,"data":{"name":"cuts"},
"layer":[
{"mark":{"type":"line","strokeWidth":3,"clip":true},"encoding":{
"x":{"field":"i","type":"quantitative","title":"pixel","scale":{"domain":[-3.95,82.95],"nice":false,"zero":false},"axis":{"values":[0,20,40,60,80]}},
"y":{"field":"h","type":"quantitative","title":"intensity (arbitrary units)","scale":{"domain":[-29500,632000],"nice":false,"zero":false},"axis":{"values":[0,100000,200000,300000,400000,500000,600000],"labelFontSize":25,"labelExpr":"datum.value==0?'0':(datum.value/100000)+' × 10⁵'","titlePadding":8}},
"color":{"datum":"horizontal","scale":{"domain":["horizontal","vertical"],"range":["#ff0000","#0000ff"]},"legend":{"title":null,"orient":"none","legendX":310,"legendY":9,"padding":8,"strokeColor":"#cccccc","fillColor":"white","cornerRadius":4,"symbolType":"M-2,0H2","symbolSize":625,"symbolStrokeWidth":3,"symbolOffset":12,"labelOffset":28,"rowPadding":7}}}},
{"mark":{"type":"line","strokeWidth":3,"clip":true},"encoding":{
"x":{"field":"i","type":"quantitative"},
"y":{"field":"v","type":"quantitative"},
"color":{"datum":"vertical"}}}
]},
{"width":132,"height":10,"view":{"stroke":null},"data":{"values":[{"a":1}]},"mark":{"type":"point","opacity":0}},
{"title":{"text":"AO source K band","offset":3},"width":440,"height":438,
"layer":[
{"data":{"name":"coarse"},"mark":{"type":"rect","width":22.5,"height":22.4,"clip":true},"encoding":{
"x":{"field":"i","type":"quantitative","title":"pixel","scale":{"domain":[-0.5,79.5],"nice":false,"zero":false},"axis":{"values":[0,20,40,60]}},
"y":{"field":"j","type":"quantitative","title":"pixel","scale":{"domain":[-0.5,79.5],"nice":false,"zero":false},"axis":{"values":[0,10,20,30,40,50,60,70],"titlePadding":5}},
"color":{"field":"t","type":"quantitative","scale":{"scheme":"viridis","domain":[0,100]},"legend":null}}},
{"data":{"name":"medium"},"mark":{"type":"rect","width":11.5,"height":11.4,"clip":true},"encoding":{
"x":{"field":"i","type":"quantitative"},"y":{"field":"j","type":"quantitative"},
"color":{"field":"t","type":"quantitative"}}},
{"data":{"name":"core"},"mark":{"type":"rect","width":6,"height":5.9,"clip":true},"encoding":{
"x":{"field":"i","type":"quantitative"},"y":{"field":"j","type":"quantitative"},
"color":{"field":"t","type":"quantitative"}}},
{"data":{"values":[{"x":40}]},"mark":{"type":"rule","color":"#600a30","opacity":0.42,"strokeWidth":5.5},"encoding":{"x":{"field":"x","type":"quantitative"}}},
{"data":{"values":[{"y":40}]},"mark":{"type":"rule","color":"#600a30","opacity":0.42,"strokeWidth":5.5},"encoding":{"y":{"field":"y","type":"quantitative"}}},
{"data":{"values":[{"x":59.3,"x2":67.1,"y":10.1}]},"mark":{"type":"rule","color":"white","strokeWidth":5.5},"encoding":{"x":{"field":"x","type":"quantitative"},"x2":{"field":"x2"},"y":{"field":"y","type":"quantitative"}}},
{"data":{"values":[{"x":63.2,"y":14.6,"label":"178 au"},{"x":63.2,"y":4.6,"label":"0.1″"}]},"mark":{"type":"text","color":"white","fontSize":27,"align":"center","baseline":"middle"},"encoding":{"x":{"field":"x","type":"quantitative"},"y":{"field":"y","type":"quantitative"},"text":{"field":"label"}}}
]}
],"spacing":0,"bounds":"flush","resolve":{"scale":{"color":"independent"},"legend":{"color":"independent"}}},
{"hconcat":[
{"title":"Horizontal cut","width":491,"height":427,
"layer":[
{"data":{"name":"cuts"},"mark":{"type":"point","filled":true,"size":169,"color":"#000","opacity":1},"encoding":{
"x":{"field":"x","type":"quantitative","title":"pixel","scale":{"domain":[-4.05,84.05],"nice":false,"zero":false},"axis":{"values":[0,20,40,60,80]}},
"y":{"field":"h","type":"quantitative","title":"intensity (arbitrary units)","scale":{"domain":[-30700,648000],"nice":false,"zero":false},"axis":{"values":[0,100000,200000,300000,400000,500000,600000],"labelFontSize":25,"labelExpr":"datum.value==0?'0':(datum.value/100000)+' × 10⁵'","titlePadding":5}}}},
{"data":{"name":"moffatH"},"mark":{"type":"line","strokeWidth":4},"encoding":{
"x":{"field":"x","type":"quantitative"},"y":{"field":"y","type":"quantitative"},
"color":{"datum":"Moffat","scale":{"domain":["Moffat"],"range":["#ff0000"]},"legend":{"title":null,"orient":"none","legendX":12,"legendY":9,"padding":7,"strokeColor":"#cccccc","fillColor":"white","cornerRadius":4,"symbolType":"M-2,0H2","symbolSize":625,"symbolStrokeWidth":4,"symbolOffset":12,"labelOffset":27}}}},
{"data":{"values":[{"x":45,"y":602000,"label":"FWHM 0.061 arcsec"}]},"mark":{"type":"text","fontSize":23.5,"align":"left","baseline":"middle","color":"#000"},"encoding":{"x":{"field":"x","type":"quantitative"},"y":{"field":"y","type":"quantitative"},"text":{"field":"label"}}}
]},
{"title":"Vertical cut","width":491,"height":427,
"layer":[
{"data":{"name":"cuts"},"mark":{"type":"point","filled":true,"size":169,"color":"#000","opacity":1},"encoding":{
"x":{"field":"x","type":"quantitative","title":"pixel","scale":{"domain":[-4.05,84.05],"nice":false,"zero":false},"axis":{"values":[0,20,40,60,80]}},
"y":{"field":"v","type":"quantitative","title":null,"scale":{"domain":[-30700,648000],"nice":false,"zero":false},"axis":{"values":[0,100000,200000,300000,400000,500000,600000],"labelFontSize":25,"labelExpr":"datum.value==0?'0':(datum.value/100000)+' × 10⁵'"}}}},
{"data":{"name":"moffatV"},"mark":{"type":"line","strokeWidth":4},"encoding":{
"x":{"field":"x","type":"quantitative"},"y":{"field":"y","type":"quantitative"},
"color":{"datum":"Moffat","scale":{"domain":["Moffat"],"range":["#ff0000"]},"legend":{"title":null,"orient":"none","legendX":12,"legendY":9,"padding":7,"strokeColor":"#cccccc","fillColor":"white","cornerRadius":4,"symbolType":"M-2,0H2","symbolSize":625,"symbolStrokeWidth":4,"symbolOffset":12,"labelOffset":27}}}},
{"data":{"values":[{"x":45,"y":602000,"label":"FWHM 0.065 arcsec"}]},"mark":{"type":"text","fontSize":23.5,"align":"left","baseline":"middle","color":"#000"},"encoding":{"x":{"field":"x","type":"quantitative"},"y":{"field":"y","type":"quantitative"},"text":{"field":"label"}}}
]}
],"spacing":97,"bounds":"flush","resolve":{"scale":{"color":"independent"},"legend":{"color":"independent"}}}
]}
